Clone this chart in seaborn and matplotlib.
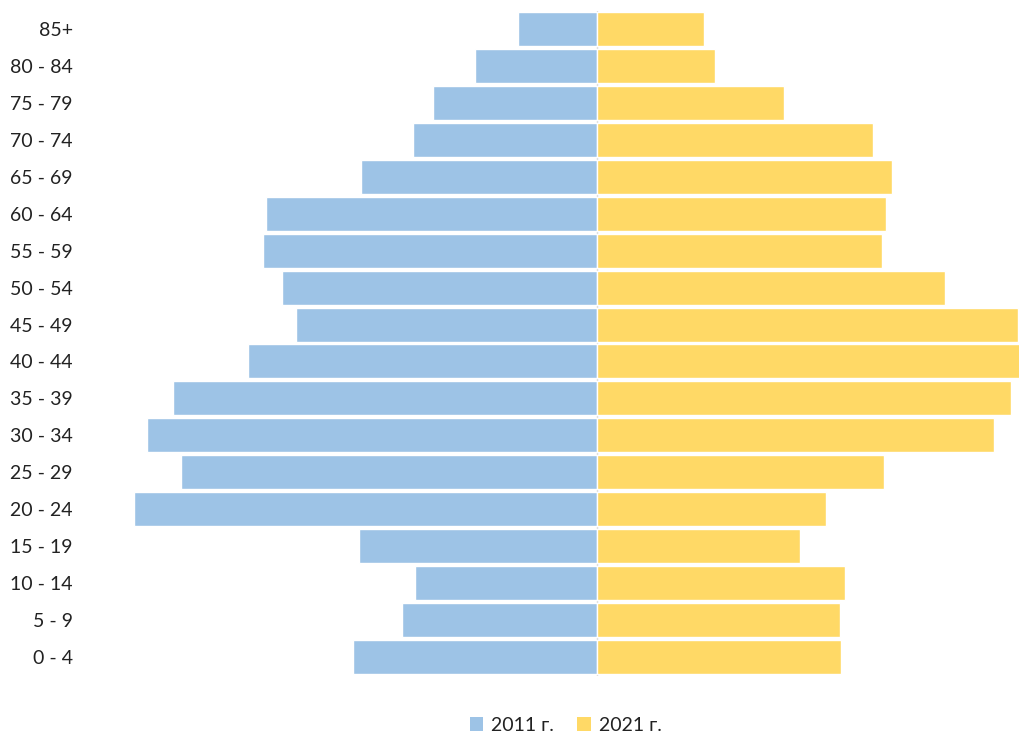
import pandas as pd
import seaborn as sns
import matplotlib.pyplot as plt
from matplotlib.patches import Patch

# Возрастные группы (сверху вниз)
ages = ['85+', '80 - 84', '75 - 79', '70 - 74', '65 - 69', '60 - 64', '55 - 59',
        '50 - 54', '45 - 49', '40 - 44', '35 - 39', '30 - 34', '25 - 29',
        '20 - 24', '15 - 19', '10 - 14', '5 - 9', '0 - 4']

# Значения (в условных единицах)
pop_2011 = [79, 122, 164, 184, 236, 331, 334, 315, 301, 349, 424, 450, 416,
            463, 238, 182, 195, 244]
pop_2021 = [107, 118, 187, 276, 295, 289, 285, 348, 421, 430, 414, 397, 287,
            229, 203, 248, 243, 244]

years = ['2011 г.', '2021 г.']
colors = ['#9DC3E6', '#FFD966']

df = pd.concat([
    pd.DataFrame({'age': ages, 'value': [-v for v in pop_2011], 'year': years[0]}),
    pd.DataFrame({'age': ages, 'value': pop_2021, 'year': years[1]}),
])

sns.set_style('white')
plt.rcParams['font.family'] = ['Lato', 'DejaVu Sans']

fig = plt.figure(figsize=(10.19, 7.35), dpi=100)
ax = fig.add_axes([95 / 1019, 59.5 / 735, 924 / 1019, 665 / 735])

sns.barplot(data=df, x='value', y='age', hue='year', order=ages,
            palette=colors, saturation=1, dodge=False, width=0.92, orient='y',
            edgecolor='white', linewidth=1, legend=False, ax=ax)

ax.axvline(0, color='#d9d9d9', lw=1, zorder=0)
ax.set_xlim(-502, 422)
ax.set_xlabel('')
ax.set_ylabel('')
ax.set_xticks([])
ax.tick_params(axis='y', length=0, labelsize=14, pad=16, labelcolor='#222222')
sns.despine(ax=ax, left=True, bottom=True)

handles = [Patch(facecolor=c, edgecolor='none') for c in colors]
fig.legend(handles, years, loc='center', bbox_to_anchor=(0.555, 0.013),
           ncol=2, frameon=False, fontsize=14, handlelength=0.7,
           handleheight=0.7, handletextpad=0.4, columnspacing=1.2,
           labelcolor='#222222')

fig.savefig('out.png', dpi=100)
